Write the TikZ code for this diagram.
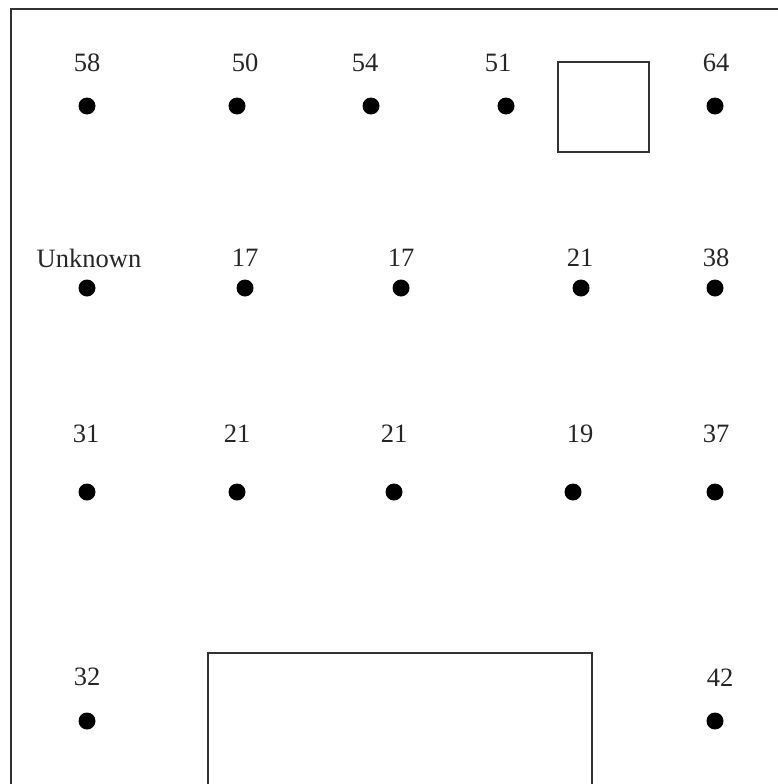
\documentclass[tikz,border=0pt]{standalone}
\usepackage{fontspec}
\setmainfont{Liberation Serif}
\begin{document}
\begin{tikzpicture}[x=1pt, y=-1pt,
  dot/.style={circle, fill=black, inner sep=0pt, minimum size=17pt},
  num/.style={font=\fontsize{26.5}{30}\selectfont, text=black!85, inner sep=0pt},
  wall/.style={draw=black!80, line width=1.3pt}]
\useasboundingbox (0,0) rectangle (778,784);
% Outer frame (cut off at right and bottom)
\draw[wall] (11,784) -- (11,9) -- (778,9);
% Rooms
\draw[wall] (558,62) rectangle (649,152);
\draw[wall] (208,784) -- (208,653) -- (592,653) -- (592,784);
% Row 1
\foreach \n/\x/\lx/\t in {a1/87/87/58, a2/237/245/50, a3/371/365/54, a4/506/498/51, a5/715/716/64} {
  \node[dot] (\n) at (\x,106) {};
  \node[num] (\n-lab) at (\lx,63) {\t};
}
% Row 2
\foreach \n/\x/\lx/\t in {b1/87/89/Unknown, b2/245/245/17, b3/401/401/17, b4/581/580/21, b5/715/716/38} {
  \node[dot] (\n) at (\x,288) {};
  \node[num] (\n-lab) at (\lx,258) {\t};
}
% Row 3
\foreach \n/\x/\lx/\t in {c1/87/86/31, c2/237/237/21, c3/394/394/21, c4/573/580/19, c5/715/716/37} {
  \node[dot] (\n) at (\x,492) {};
  \node[num] (\n-lab) at (\lx,434) {\t};
}
% Row 4
\node[dot] (d1) at (87,721) {};
\node[num] (d1-lab) at (87,677) {32};
\node[dot] (d5) at (715,721) {};
\node[num] (d5-lab) at (720,678) {42};
\end{tikzpicture}
\end{document}
